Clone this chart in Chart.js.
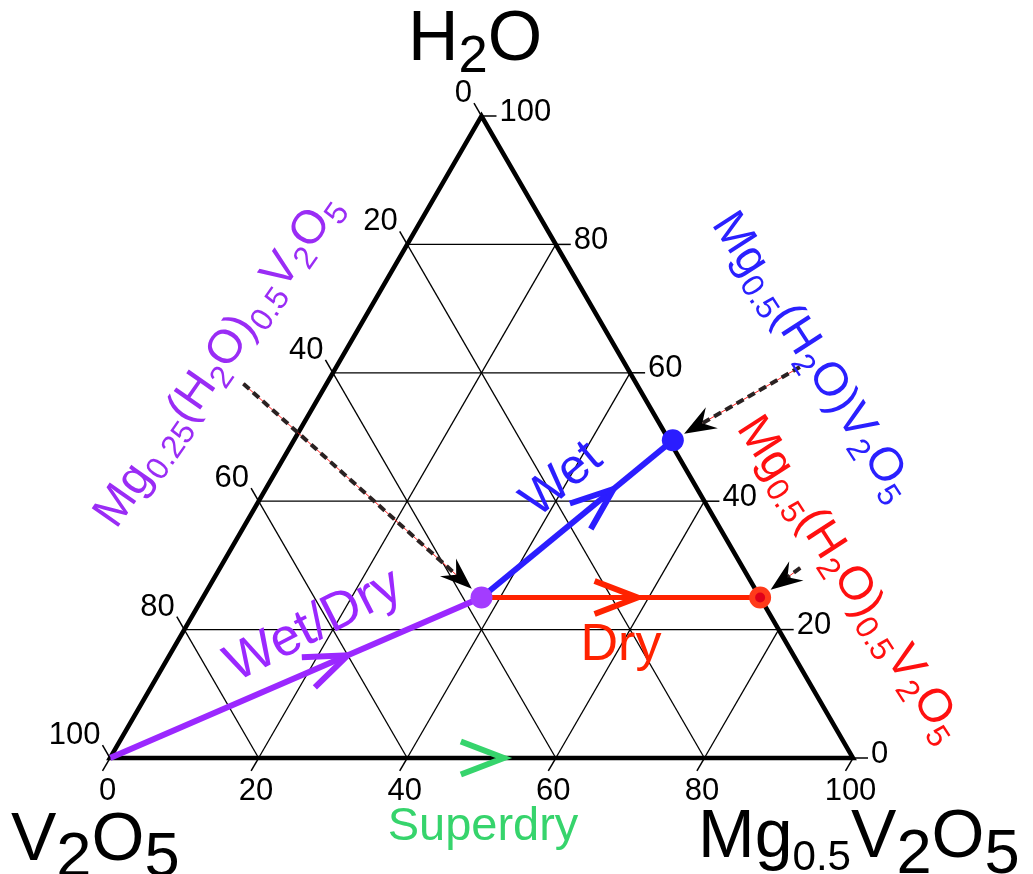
<!DOCTYPE html>
<html>
<head>
<meta charset="utf-8">
<script src="https://cdn.jsdelivr.net/npm/chart.js@4"></script>
<style>
  html, body { margin: 0; padding: 0; background: #fff; }
  #wrap { width: 1033px; height: 874px; }
</style>
</head>
<body>
<div id="wrap"><canvas id="ternary" width="1033" height="874"></canvas></div>
<script>
// ✅ Data: compositions in percent of H2O and Mg0.5V2O5 (V2O5 is the rest)
const gridLevels = [20, 40, 60, 80];
const tickLevels = [0, 20, 40, 60, 80, 100];
const tickLabels = ["0", "20", "40", "60", "80", "100"];

const phaseNames = ["Mg0.25(H2O)0.5V2O5", "Mg0.5(H2O)V2O5", "Mg0.5(H2O)0.5V2O5"];
const phaseH2O = [25, 49.5, 25];
const phaseMg = [37.5, 51, 75];

// reaction paths
const pathNames = ["Wet/Dry", "Wet", "Dry", "Superdry"];
const pathFromH2O = [0, 25, 25, 0];
const pathFromMg = [0, 37.5, 37.5, 0];
const pathToH2O = [25, 49.5, 25, 0];
const pathToMg = [37.5, 51, 75, 100];
const pathArrowAt = [0.64, 0.69, 0.56, 0.53];

// leader arrows: label end (composition) -> phase index
const leaderH2O = [58.3, 60.9, 29.6];
const leaderMg = [-11.2, 62.4, 78.1];
const leaderTarget = [0, 1, 2];

// ✅ Styles
const FONT = '"Liberation Sans", Arial, Helvetica, sans-serif';
const purple = "#9b28ff";
const blue = "#2b1dff";
const red = "#ff2200";
const green = "#36d46c";
const pathColors = [purple, blue, red, green];
const pathWidths = [6, 6, 5, 0];

const SQ = Math.sqrt(3) / 2;
function tern(h, m) {
  return { x: (m + h / 2) / 100, y: (h / 100) * SQ };
}

// ✅ Build datasets
const datasets = [];

// phase points (on top)
datasets.push({
  data: phaseH2O.map((h, i) => tern(h, phaseMg[i])),
  showLine: false,
  pointRadius: [11, 11, 8],
  pointBackgroundColor: ["#a33cff", blue, "#e0001a"],
  pointBorderColor: ["#a33cff", blue, "#ff3a1a"],
  pointBorderWidth: [0, 0, 6],
  order: 0
});

// reaction paths
pathNames.forEach((name, i) => {
  if (!pathWidths[i]) return;
  datasets.push({
    label: name,
    data: [tern(pathFromH2O[i], pathFromMg[i]), tern(pathToH2O[i], pathToMg[i])],
    showLine: true,
    borderColor: pathColors[i],
    borderWidth: pathWidths[i],
    pointRadius: 0,
    order: 1 + (2 - i) * 0.1
  });
});

// triangle outline
datasets.push({
  data: [tern(0, 0), tern(0, 100), tern(100, 0), tern(0, 0), tern(0, 100)],
  showLine: true,
  borderColor: "#000",
  borderWidth: 4.5,
  borderJoinStyle: "miter",
  pointRadius: 0,
  order: 2
});

// grid lines
gridLevels.forEach(L => {
  const lines = [
    [tern(L, 0), tern(L, 100 - L)],           // constant H2O
    [tern(0, L), tern(100 - L, L)],           // constant Mg0.5V2O5
    [tern(0, 100 - L), tern(100 - L, 0)]      // constant V2O5
  ];
  lines.forEach(seg => datasets.push({
    data: seg,
    showLine: true,
    borderColor: "#000",
    borderWidth: 1.3,
    pointRadius: 0,
    order: 3
  }));
});

// ✅ Rich text helper (subscripts)
function drawRich(ctx, parts, x, y, angle, size, color, center) {
  ctx.save();
  ctx.translate(x, y);
  ctx.rotate(angle * Math.PI / 180);
  ctx.fillStyle = color;
  ctx.textBaseline = "alphabetic";
  ctx.textAlign = "left";
  let total = 0;
  parts.forEach(p => {
    ctx.font = `${size * p[1]}px ${FONT}`;
    total += ctx.measureText(p[0]).width;
  });
  let cx = center ? -total / 2 : 0;
  parts.forEach(p => {
    ctx.font = `${size * p[1]}px ${FONT}`;
    ctx.fillText(p[0], cx, size * p[2]);
    cx += ctx.measureText(p[0]).width;
  });
  ctx.restore();
}

function drawText(ctx, text, x, y, angle, size, color, baseline) {
  ctx.save();
  ctx.translate(x, y);
  ctx.rotate(angle * Math.PI / 180);
  ctx.font = `${size}px ${FONT}`;
  ctx.fillStyle = color;
  ctx.textAlign = "center";
  ctx.textBaseline = baseline || "middle";
  ctx.fillText(text, 0, 0);
  ctx.restore();
}

// ✅ Plugin: ticks, arrows, leaders and labels
const ternaryDecor = {
  id: "ternaryDecor",
  afterDatasetsDraw(chart) {
    const ctx = chart.ctx;
    const sx = chart.scales.x, sy = chart.scales.y;
    const px = (h, m) => {
      const p = tern(h, m);
      return [sx.getPixelForValue(p.x), sy.getPixelForValue(p.y)];
    };

    // axis ticks + labels
    const TL = 15;
    ctx.save();
    ctx.strokeStyle = "#000";
    ctx.lineWidth = 1.5;
    ctx.fillStyle = "#000";
    ctx.font = `31px ${FONT}`;
    tickLevels.forEach((L, i) => {
      // bottom: Mg0.5V2O5
      let [x, y] = px(0, L);
      let ex = x - 0.5 * TL, ey = y + SQ * TL;
      ctx.beginPath(); ctx.moveTo(x, y); ctx.lineTo(ex, ey); ctx.stroke();
      ctx.textAlign = "center"; ctx.textBaseline = "middle";
      ctx.fillText(tickLabels[i], ex + 5, ey + 20);

      // left: V2O5
      [x, y] = px(100 - L, 0);
      ex = x - 0.5 * TL; ey = y - SQ * TL;
      ctx.beginPath(); ctx.moveTo(x, y); ctx.lineTo(ex, ey); ctx.stroke();
      ctx.textAlign = "right"; ctx.textBaseline = "alphabetic";
      ctx.fillText(tickLabels[i], ex - 2, ey - 1);

      // right: H2O
      [x, y] = px(L, 100 - L);
      ex = x + TL; ey = y;
      ctx.beginPath(); ctx.moveTo(x, y); ctx.lineTo(ex, ey); ctx.stroke();
      ctx.textAlign = "left"; ctx.textBaseline = "middle";
      ctx.fillText(tickLabels[i], ex + 3, ey - 4);
    });
    ctx.restore();

    // open chevron arrows along paths
    const AL = 46, AA = 21 * Math.PI / 180;
    pathNames.forEach((name, i) => {
      const [x0, y0] = px(pathFromH2O[i], pathFromMg[i]);
      const [x1, y1] = px(pathToH2O[i], pathToMg[i]);
      const t = pathArrowAt[i];
      const tx = x0 + (x1 - x0) * t, ty = y0 + (y1 - y0) * t;
      const a = Math.atan2(y0 - y1, x0 - x1);
      ctx.save();
      ctx.strokeStyle = pathColors[i];
      ctx.lineWidth = 6;
      ctx.lineJoin = "miter";
      ctx.beginPath();
      ctx.moveTo(tx + AL * Math.cos(a + AA), ty + AL * Math.sin(a + AA));
      ctx.lineTo(tx, ty);
      ctx.lineTo(tx + AL * Math.cos(a - AA), ty + AL * Math.sin(a - AA));
      ctx.stroke();
      ctx.restore();
    });

    // dashed leader arrows
    leaderH2O.forEach((h, i) => {
      const [sxp, syp] = px(h, leaderMg[i]);
      const k = leaderTarget[i];
      const [qx, qy] = px(phaseH2O[k], phaseMg[k]);
      let ux = qx - sxp, uy = qy - syp;
      const len = Math.hypot(ux, uy);
      ux /= len; uy /= len;
      const gap = 13, HL = 32, HW = 12, notch = 11;
      const tipX = qx - ux * gap, tipY = qy - uy * gap;
      const bx = tipX - ux * (HL - notch), by = tipY - uy * (HL - notch);
      ctx.save();
      ctx.strokeStyle = "#ff2020";
      ctx.lineWidth = 1;
      ctx.beginPath(); ctx.moveTo(sxp, syp); ctx.lineTo(bx, by); ctx.stroke();
      ctx.strokeStyle = "#2a2222";
      ctx.lineWidth = 4;
      ctx.setLineDash([8, 5]);
      ctx.beginPath(); ctx.moveTo(sxp, syp); ctx.lineTo(bx, by); ctx.stroke();
      ctx.setLineDash([]);
      ctx.fillStyle = "#000";
      ctx.beginPath();
      ctx.moveTo(tipX, tipY);
      ctx.lineTo(tipX - ux * HL - uy * HW, tipY - uy * HL + ux * HW);
      ctx.lineTo(bx, by);
      ctx.lineTo(tipX - ux * HL + uy * HW, tipY - uy * HL - ux * HW);
      ctx.closePath();
      ctx.fill();
      ctx.restore();
    });

    // corner labels
    drawRich(ctx, [["H", 1, 0], ["2", 0.75, 0.17], ["O", 1, 0]], 408, 60, 0, 70, "#000");
    drawRich(ctx, [["V", 1, 0], ["2", 0.93, 0.23], ["O", 1, 0], ["5", 0.93, 0.23]], 11, 860, 0, 68, "#000");
    drawRich(ctx, [["Mg", 1, 0], ["0.5", 0.62, 0.19], ["V", 1, 0], ["2", 0.93, 0.23], ["O", 1, 0], ["5", 0.93, 0.23]], 698, 857, 0, 68, "#000");

    // phase labels
    const S = 0.68, D = 0.2;
    drawRich(ctx, [["Mg", 1, 0], ["0.25", S, D], ["(H", 1, 0], ["2", S, D], ["O)", 1, 0], ["0.5", S, D],
                   ["V", 1, 0], ["2", S, D], ["O", 1, 0], ["5", S, D]], 116, 530, -55, 47, "#9a2cf5");
    drawRich(ctx, [["Mg", 1, 0], ["0.5", S, D], ["(H", 1, 0], ["2", S, D], ["O)V", 1, 0], ["2", S, D],
                   ["O", 1, 0], ["5", S, D]], 711, 224, 57, 47, "#2a20ff");
    drawRich(ctx, [["Mg", 1, 0], ["0.5", S, D], ["(H", 1, 0], ["2", S, D], ["O)", 1, 0], ["0.5", S, D],
                   ["V", 1, 0], ["2", S, D], ["O", 1, 0], ["5", S, D]], 736, 428, 57, 47, "#ff1010");

    // path labels
    drawText(ctx, "Wet", 562, 480, -40, 50, blue);
    drawText(ctx, "Wet/Dry", 314, 626, -27, 53, purple);
    drawText(ctx, "Dry", 621, 660, 0, 52, red, "alphabetic");
    drawText(ctx, "Superdry", 483, 840, 0, 47, green, "alphabetic");
  }
};

new Chart(document.getElementById("ternary"), {
  type: "scatter",
  data: { datasets },
  options: {
    responsive: false,
    animation: false,
    layout: { padding: 0, autoPadding: false },
    plugins: { legend: { display: false }, tooltip: { enabled: false } },
    scales: {
      x: { type: "linear", display: false, min: -110 / 743, max: 923 / 743 },
      y: { type: "linear", display: false, min: -116 / (642 / SQ), max: 758 / (642 / SQ) }
    }
  },
  plugins: [ternaryDecor]
});
</script>
</body>
</html>
